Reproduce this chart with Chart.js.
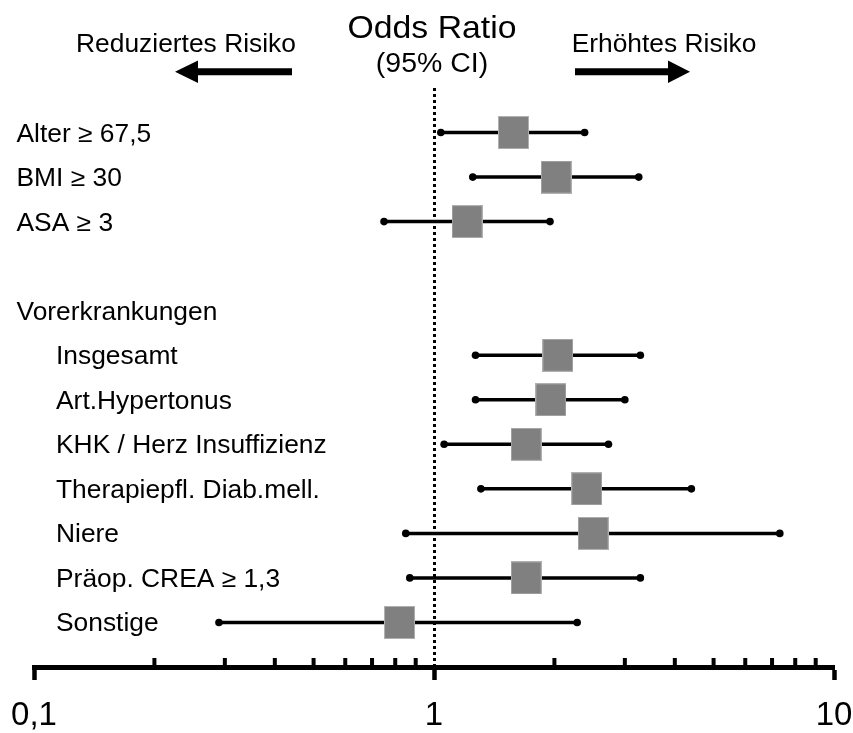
<!DOCTYPE html>
<html>
<head>
<meta charset="utf-8">
<script src="https://cdn.jsdelivr.net/npm/chart.js@4.4.1/dist/chart.umd.min.js"></script>
<style>
  html, body { margin: 0; padding: 0; background: #fff; }
  #wrap { width: 853px; height: 733px; }
</style>
</head>
<body>
<div id="wrap"><canvas id="forest"></canvas></div>
<script>
// Risikofaktoren: Odds Ratio mit 95%-Konfidenzintervall
const labels = ['Alter ≥ 67,5', 'BMI ≥ 30', 'ASA ≥ 3', '', 'Vorerkrankungen',
  'Insgesamt', 'Art.Hypertonus', 'KHK / Herz Insuffizienz', 'Therapiepfl. Diab.mell.',
  'Niere', 'Präop. CREA ≥ 1,3', 'Sonstige'];
const oddsRatio = [1.58, 2.02, 1.21, null, null, 2.04, 1.96, 1.70, 2.41, 2.50, 1.70, 0.82];
const ciLower   = [1.04, 1.25, 0.75, null, null, 1.27, 1.27, 1.06, 1.31, 0.85, 0.87, 0.29];
const ciUpper   = [2.38, 3.25, 1.95, null, null, 3.28, 3.00, 2.73, 4.40, 7.32, 3.28, 2.28];
const groupHeader = 'Vorerkrankungen';
const xTicks = [0.1, 1, 10];
const xMinorTicks = [0.2, 0.3, 0.4, 0.5, 0.6, 0.7, 0.8, 0.9, 2, 3, 4, 5, 6, 7, 8, 9];

const FONT = '"Liberation Sans", Arial, Helvetica, sans-serif';
const STRETCH = 1.055;

// Punkte fuer die Quadrate und Linien fuer die Konfidenzintervalle
const boxes = [];
const whiskers = [];
labels.forEach((l, i) => {
    if (oddsRatio[i] == null) return;
    boxes.push({x: oddsRatio[i], y: i});
    whiskers.push({x: ciLower[i], y: i}, {x: ciUpper[i], y: i}, {x: ciUpper[i], y: null});
});

// graues Quadrat als Punktsymbol
const square = document.createElement('canvas');
square.width = 31;
square.height = 33;
(function() {
    const c = square.getContext('2d');
    c.fillStyle = '#b0b0b0';
    c.fillRect(0, 0, 31, 33);
    c.fillStyle = '#808080';
    c.fillRect(1, 1, 29, 31);
})();

// leicht breiter laufende Schrift
function drawText(ctx, text, x, y) {
    ctx.save();
    ctx.translate(x, y);
    ctx.scale(STRETCH, 1);
    ctx.fillText(text, 0, 0);
    ctx.restore();
}

const header = {
    id: 'header',
    afterDraw(chart) {
        const ctx = chart.ctx;
        ctx.save();
        ctx.fillStyle = '#000';
        ctx.textAlign = 'center';
        ctx.textBaseline = 'alphabetic';
        ctx.font = '32px ' + FONT;
        drawText(ctx, 'Odds Ratio', 432, 38);
        ctx.font = '27px ' + FONT;
        drawText(ctx, '(95% CI)', 432, 72);
        ctx.font = '25px ' + FONT;
        drawText(ctx, 'Reduziertes Risiko', 186, 52);
        drawText(ctx, 'Erhöhtes Risiko', 664, 52);

        // Pfeile
        ctx.beginPath();
        ctx.moveTo(292, 68.2);
        ctx.lineTo(198, 68.2);
        ctx.lineTo(198, 60.5);
        ctx.lineTo(175, 71.7);
        ctx.lineTo(198, 83);
        ctx.lineTo(198, 75.2);
        ctx.lineTo(292, 75.2);
        ctx.closePath();
        ctx.fill();
        ctx.beginPath();
        ctx.moveTo(575, 68.2);
        ctx.lineTo(668, 68.2);
        ctx.lineTo(668, 60.5);
        ctx.lineTo(690, 71.7);
        ctx.lineTo(668, 83);
        ctx.lineTo(668, 75.2);
        ctx.lineTo(575, 75.2);
        ctx.closePath();
        ctx.fill();
        ctx.restore();
    }
};

const rowLabels = {
    id: 'rowLabels',
    afterDraw(chart) {
        const ctx = chart.ctx;
        const yScale = chart.scales.y;
        const sub = labels.indexOf(groupHeader);
        ctx.save();
        ctx.fillStyle = '#000';
        ctx.font = '25px ' + FONT;
        ctx.textAlign = 'left';
        ctx.textBaseline = 'alphabetic';
        labels.forEach((t, i) => {
            drawText(ctx, t, i > sub ? 56 : 16.5, yScale.getPixelForValue(i) + 9);
        });
        ctx.restore();
    }
};

// gestrichelte Linie bei OR = 1 und kleine Striche auf der Achse
const refLine = {
    id: 'refLine',
    beforeDatasetsDraw(chart) {
        const ctx = chart.ctx;
        const xScale = chart.scales.x;
        const area = chart.chartArea;
        const x = Math.round(xScale.getPixelForValue(1)) + 0.5;
        ctx.save();
        ctx.strokeStyle = '#000';
        ctx.lineWidth = 3;
        ctx.setLineDash([3, 3]);
        ctx.beginPath();
        ctx.moveTo(x, area.top);
        ctx.lineTo(x, area.bottom);
        ctx.stroke();
        ctx.setLineDash([]);
        ctx.lineWidth = 4;
        xMinorTicks.forEach(v => {
            const px = xScale.getPixelForValue(v);
            ctx.beginPath();
            ctx.moveTo(px, area.bottom - 9);
            ctx.lineTo(px, area.bottom);
            ctx.stroke();
        });
        ctx.restore();
    }
};

const ctx = document.getElementById('forest').getContext('2d');
const forest = new Chart(ctx, {
    type: 'scatter',
    data: {
        datasets: [{
            label: 'OR',
            data: boxes,
            pointStyle: square,
            pointRadius: 16,
            pointHoverRadius: 16
        }, {
            label: '95% CI',
            data: whiskers,
            showLine: true,
            spanGaps: false,
            borderColor: '#000',
            borderWidth: 3.5,
            pointRadius: 3.8,
            pointHoverRadius: 3.8,
            pointBackgroundColor: '#000',
            pointBorderWidth: 0
        }]
    },
    options: {
        responsive: true,
        maintainAspectRatio: false,
        animation: false,
        layout: {
            padding: {top: 88, left: 34, right: 19, bottom: 0}
        },
        plugins: {
            legend: {display: false},
            tooltip: {enabled: false}
        },
        scales: {
            x: {
                type: 'logarithmic',
                min: 0.1,
                max: 10,
                afterBuildTicks: scale => {
                    scale.ticks = xTicks.map(v => ({value: v}));
                },
                afterFit: scale => {
                    scale.height = 66;
                    scale.paddingLeft = 0;
                    scale.paddingRight = 0;
                },
                ticks: {
                    autoSkip: false,
                    maxRotation: 0,
                    padding: 16,
                    color: '#000',
                    font: {family: FONT, size: 33},
                    callback: v => String(v).replace('.', ',')
                },
                grid: {
                    drawOnChartArea: false,
                    drawTicks: true,
                    tickLength: 13,
                    tickWidth: 4.5,
                    tickColor: '#000'
                },
                border: {display: true, width: 5, color: '#000'}
            },
            y: {
                type: 'linear',
                min: -1,
                max: 12,
                reverse: true,
                display: false
            }
        }
    },
    plugins: [refLine, rowLabels, header]
});
</script>
</body>
</html>
